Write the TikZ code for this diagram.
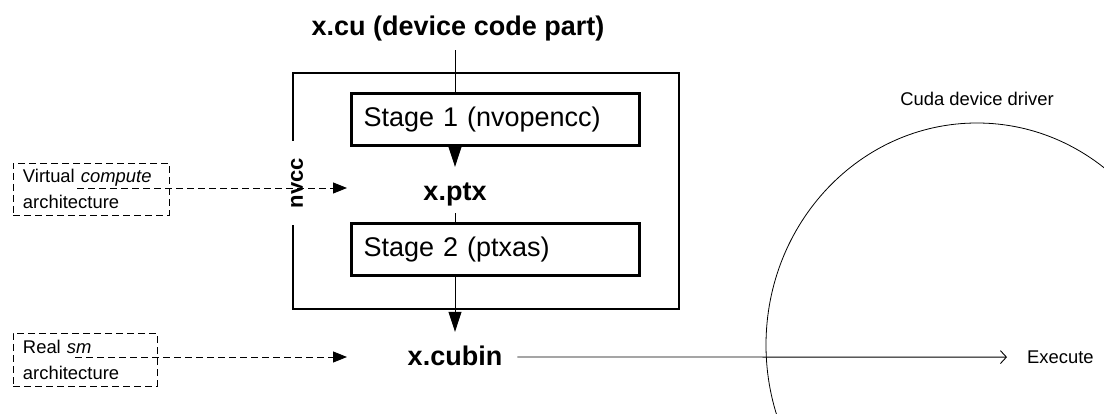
\documentclass[tikz,border=0pt]{standalone}
\usepackage{fontspec}
\setmainfont{Liberation Sans}
\usetikzlibrary{arrows.meta,shapes.geometric}
\begin{document}
\begin{tikzpicture}[x=1pt,y=-1pt,
  big/.style={font=\fontsize{27}{32}\selectfont\bfseries, inner sep=0pt, text height=20pt, text depth=2pt, anchor=base},
  stagebox/.style={draw, line width=3pt, minimum width=288pt, minimum height=52pt, text width=264pt, align=left, inner xsep=12pt, font=\fontsize{27}{32}\selectfont},
  small/.style={font=\fontsize{18.4}{26}\selectfont, inner sep=0pt},
  dbox/.style={draw, line width=0.9pt, dash pattern=on 7pt off 4pt, align=left, font=\fontsize{18.4}{26}\selectfont, inner xsep=10pt, inner ysep=0pt},
  thin/.style={line width=0.9pt},
  arr/.style={line width=0.9pt, -{Triangle[length=20pt,width=13pt]}},
  darr/.style={line width=0.9pt, dash pattern=on 7pt off 4pt, -{Triangle[length=14pt,width=11pt]}},
]
\useasboundingbox (0,0) rectangle (1104,414);

% device driver ellipse
\node[draw, ellipse, line width=0.8pt, minimum width=422pt, minimum height=444pt, inner sep=0pt] (driver) at (977,345) {};
\node[small] (drvlab) at ([yshift=24pt]driver.north) {Cuda device driver};

% nvcc outer box
\node[draw, line width=1.2pt, minimum width=386pt, minimum height=236pt, inner sep=0pt] (nvccbox) at (486,191) {};
\node[rotate=90, font=\fontsize{22}{26}\selectfont\bfseries, fill=white, inner xsep=17pt, inner ysep=3pt] (nvcc) at (297,183) {nvcc};

% stages
\node[stagebox] (s1) at (495.5,119.5) {Stage 1 (nvopencc)};
\node[stagebox] (s2) at (495.5,250) {Stage 2 (ptxas)};

% labels
\node[big] (xptx) at (455,201) {x.ptx};
\node[big] (xcu) at (458,35.5) {x.cu (device code part)};
\node[big] (xcubin) at (455,366) {x.cubin};
\node[small, anchor=base west, text height=13pt, text depth=0pt] (exec) at (1027,363.6) {Execute};

% dashed input boxes
\node[dbox, minimum width=156pt, minimum height=52pt, text width=136pt] (vbox) at (91,189) {Virtual \textit{compute}\\architecture};
\node[dbox, minimum width=144pt, minimum height=53pt, text width=124pt] (rbox) at (85,359.5) {Real \textit{sm}\\architecture};
\coordinate (vs) at (77,188);
\coordinate (vtip) at (347,188);
\coordinate (rs) at (75,357);
\coordinate (rtip) at (347,357);

% connectors
\draw[thin, shorten <=12.5pt] (xcu.south -| xptx) -- (s1.north -| xptx);
\draw[arr, shorten >=14pt] (s1.south -| xptx) -- (xptx.north);
\draw[thin, shorten <=10pt] (xptx.south) -- (s2.north -| xptx);
\draw[arr, shorten >=14pt] (s2.south -| xptx) -- (xcubin.north);
\draw[thin, -{Straight Barb[length=6pt,width=13pt]}, shorten <=15pt, shorten >=20pt] (xcubin.east) -- (exec.west);
\draw[darr] (vs) -- (vtip);
\draw[darr] (rs) -- (rtip);
\end{tikzpicture}
\end{document}
